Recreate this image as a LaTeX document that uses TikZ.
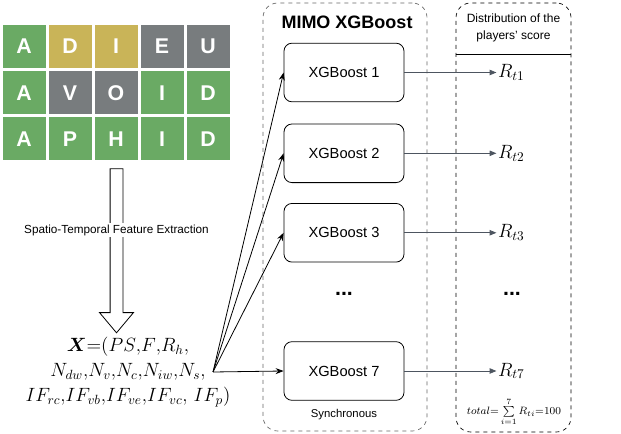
\documentclass[tikz,border=0pt]{standalone}
\usepackage{amsmath,amssymb}
\usepackage{fontspec}
\setsansfont{Liberation Sans}
\usepackage{tikz}
\usetikzlibrary{shapes.arrows, arrows.meta, positioning, calc}

\definecolor{wgreen}{HTML}{6AAA64}
\definecolor{wyellow}{HTML}{C9B458}
\definecolor{wgray}{HTML}{787C7E}
\definecolor{linegray}{HTML}{4D5560}

\begin{document}
\begin{tikzpicture}[
    x=0.75pt, y=-0.75pt,
    node distance=15pt,
    tile/.style={rectangle, minimum size=32.25pt, inner sep=0pt, text=white, font=\fontsize{16}{18}\selectfont\sffamily\bfseries},
    model/.style={draw, rectangle, rounded corners=6pt, minimum width=90pt, minimum height=44pt, align=center, font=\fontsize{11}{13}\selectfont\sffamily, line width=0.6pt, fill=white},
    groupbox/.style={draw, dashed, rounded corners=11pt, line width=0.5pt},
    score/.style={inner sep=1pt, font=\fontsize{14}{16}\selectfont},
    dots/.style={font=\fontsize{16}{18}\selectfont\sffamily\bfseries},
    inarrow/.style={-{Stealth[length=6pt, width=4.5pt]}, line width=0.6pt, draw=black},
    outarrow/.style={-{Triangle[length=5pt, width=4pt]}, line width=0.6pt, draw=linegray}
]
\useasboundingbox (0,0) rectangle (621,434);

% Wordle board
\node[tile, fill=wgreen]  (a1) at (24,46.5)  {A};
\node[tile, fill=wyellow] (a2) at (70,46.5)  {D};
\node[tile, fill=wyellow] (a3) at (116,46.5) {I};
\node[tile, fill=wgray]   (a4) at (162,46.5) {E};
\node[tile, fill=wgray]   (a5) at (208,46.5) {U};
\node[tile, fill=wgreen]  (b1) at (24,93)    {A};
\node[tile, fill=wgray]   (b2) at (70,93)    {V};
\node[tile, fill=wgray]   (b3) at (116,93)   {O};
\node[tile, fill=wgreen]  (b4) at (162,93)   {I};
\node[tile, fill=wgreen]  (b5) at (208,93)   {D};
\node[tile, fill=wgreen]  (c1) at (24,139)   {A};
\node[tile, fill=wgreen]  (c2) at (70,139)   {P};
\node[tile, fill=wgreen]  (c3) at (116,139)  {H};
\node[tile, fill=wgreen]  (c4) at (162,139)  {I};
\node[tile, fill=wgreen]  (c5) at (208,139)  {D};

% feature extraction
\node[single arrow, draw, line width=0.6pt, shape border rotate=270, inner sep=4.5pt,
      minimum height=123pt, single arrow head extend=7.9pt, single arrow tip angle=80]
      (extract) at (116.5,247) {};
\node[fill=white, inner sep=1pt, font=\fontsize{8.8}{10}\selectfont\sffamily] (extlabel) at (116.5,230)
      {Spatio-Temporal Feature Extraction};

\node[align=center, font=\fontsize{14}{18.5}\selectfont, inner sep=0pt] (feat) at (128,372)
      {$\boldsymbol{X}{=}(PS{,}F{,}R_{h}{,}$\\
       $N_{dw}{,}N_{v}{,}N_{c}{,}N_{iw}{,}N_{s}{,}$\\
       $IF_{rc}{,}IF_{vb}{,}IF_{ve}{,}IF_{vc}{,}\ IF_{p})$};
\coordinate (src) at (213,372);

% MIMO XGBoost
\node[groupbox, draw=black!60, minimum width=123pt, minimum height=321pt] (mimo) at (345,217) {};
\node[font=\fontsize{13.5}{16}\selectfont\sffamily\bfseries] (mimotitle) at (347,22) {MIMO XGBoost};
\node[model] (xg1) at (344,72.5) {XGBoost 1};
\node[model, below=16pt of xg1] (xg2) {XGBoost 2};
\node[model, below=15pt of xg2] (xg3) {XGBoost 3};
\node[dots] (xgdots) at (344,294) {...};
\node[model] (xg7) at (344,371) {XGBoost 7};
\node[font=\fontsize{8.5}{10}\selectfont\sffamily] (sync) at (344,415) {Synchronous};

% distribution of the scores
\node[groupbox, draw=black, minimum width=86.25pt, minimum height=321.75pt] (dist) at (513.5,217.5) {};
\node[align=center, font=\fontsize{9}{12.5}\selectfont\sffamily] (disttitle) at (513.5,28)
      {Distribution of the\\ players' score};
\draw[line width=0.6pt] ($(dist.north west)!0.12!(dist.south west)$) -- ($(dist.north east)!0.12!(dist.south east)$);

\node[score, right=69pt of xg1] (r1) {$R_{t1}$};
\node[score, right=69pt of xg2] (r2) {$R_{t2}$};
\node[score, right=69pt of xg3] (r3) {$R_{t3}$};
\node[dots] (rdots) at (512,294) {...};
\node[score, right=69pt of xg7] (r7) {$R_{t7}$};
\node[inner sep=0pt, font=\fontsize{8}{9}\selectfont] (total) at (514,412)
      {$total{=}\sum\limits_{i=1}^{7}R_{ti}{=}100$};

% connectors
\draw[inarrow] (src) -- (xg1.west);
\draw[inarrow] (src) -- (xg2.west);
\draw[inarrow] (src) -- (xg3.west);
\draw[inarrow] (src) -- (xg7.west);

\draw[outarrow] (xg1) -- (r1);
\draw[outarrow] (xg2) -- (r2);
\draw[outarrow] (xg3) -- (r3);
\draw[outarrow] (xg7) -- (r7);

\end{tikzpicture}
\end{document}
